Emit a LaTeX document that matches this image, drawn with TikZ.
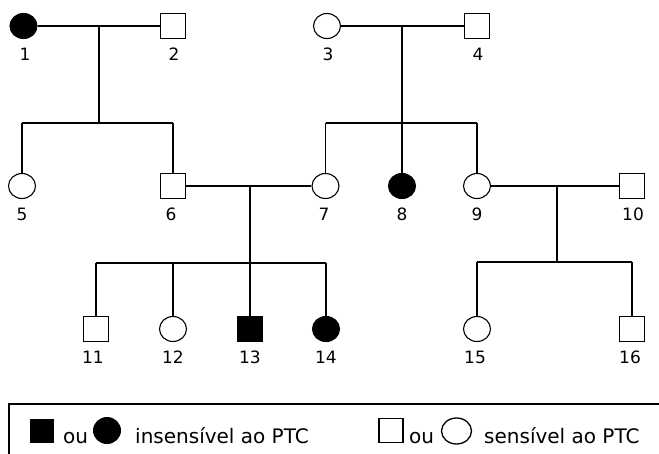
\documentclass[tikz,border=0pt]{standalone}
\usepackage{fontspec}
\setmainfont{DejaVu Sans}
\usetikzlibrary{shapes.geometric}
\begin{document}
\begin{tikzpicture}[x=1pt,y=-1pt,
  fem/.style={ellipse,draw,line width=1.1pt,minimum width=27pt,minimum height=25pt,inner sep=0pt},
  mal/.style={rectangle,draw,line width=1.1pt,minimum size=25pt,inner sep=0pt},
  aff/.style={fill=black},
  lab/.style={font=\fontsize{17}{18}\selectfont,inner sep=0pt},
  legtext/.style={font=\fontsize{20}{22}\selectfont,inner sep=0pt,anchor=base west},
  matline/.style={line width=2pt},
  sibline/.style={line width=1.3pt}]
\useasboundingbox (0,0) rectangle (659,454);
\clip (0,0) rectangle (659,454);
% generation 1
\node[fem,aff] (n1) at (23.5,26) {};
\node[mal] (n2) at (173,26) {};
\node[fem] (n3) at (327,26) {};
\node[mal] (n4) at (477,26) {};
% generation 2
\node[fem] (n5) at (22,186) {};
\node[mal] (n6) at (173,186) {};
\node[fem] (n7) at (325.5,186) {};
\node[fem,aff] (n8) at (402,186) {};
\node[fem] (n9) at (477,186) {};
\node[mal] (n10) at (632,186) {};
% generation 3
\node[mal] (n11) at (96,329) {};
\node[fem] (n12) at (173,329) {};
\node[mal,aff] (n13) at (250,329) {};
\node[fem,aff] (n14) at (326,329) {};
\node[fem] (n15) at (477,329) {};
\node[mal] (n16) at (632,329) {};
% labels
\node[lab] (l1) at (25,54) {1};
\node[lab] (l2) at (174,54) {2};
\node[lab] (l3) at (328,54) {3};
\node[lab] (l4) at (478,54) {4};
\node[lab] (l5) at (22,214) {5};
\node[lab] (l6) at (171,214) {6};
\node[lab] (l7) at (324,214) {7};
\node[lab] (l8) at (402,214) {8};
\node[lab] (l9) at (477,214) {9};
\node[lab] (l10) at (633,214) {10};
\node[lab] (l11) at (93,357) {11};
\node[lab] (l12) at (173,357) {12};
\node[lab] (l13) at (250,357) {13};
\node[lab] (l14) at (326,357) {14};
\node[lab] (l15) at (475,357) {15};
\node[lab] (l16) at (630,357) {16};
% mating points and sibship lines
\coordinate (m12) at (99,26);
\coordinate (s12) at (99,123);
\coordinate (m34) at (402,26);
\coordinate (s34) at (402,123);
\coordinate (m67) at (250,186);
\coordinate (s67) at (250,263);
\coordinate (m910) at (557,186);
\coordinate (s910) at (557,262);
% family 1-2
\draw[matline] (n1) -- (n2);
\draw[matline] (m12) -- (s12);
\draw[sibline] (n5 |- s12) -- (n6 |- s12);
\draw[sibline] (n5 |- s12) -- (n5);
\draw[sibline] (n6 |- s12) -- (n6);
% family 3-4
\draw[matline] (n3) -- (n4);
\draw[matline] (m34) -- (s34);
\draw[sibline] (n7 |- s34) -- (n9 |- s34);
\draw[sibline] (n7 |- s34) -- (n7);
\draw[matline] (s34) -- (n8);
\draw[sibline] (n9 |- s34) -- (n9);
% family 6-7
\draw[matline] (n6) -- (n7);
\draw[matline] (m67) -- (s67);
\draw[sibline] (n11 |- s67) -- (n14 |- s67);
\draw[sibline] (n11 |- s67) -- (n11);
\draw[sibline] (n12 |- s67) -- (n12);
\draw[matline] (s67) -- (n13);
\draw[sibline] (n14 |- s67) -- (n14);
% family 9-10
\draw[matline] (n9) -- (n10);
\draw[matline] (m910) -- (s910);
\draw[sibline] (n15 |- s910) -- (n16 |- s910);
\draw[sibline] (n15 |- s910) -- (n15);
\draw[sibline] (n16 |- s910) -- (n16);
% legend
\draw[line width=1.2pt] (9,470) -- (9,404) -- (680,404);
\node[rectangle,fill=black,minimum size=24pt,inner sep=0pt] (k1) at (42,431) {};
\node[legtext] (k2) at (63,443) {ou};
\node[ellipse,fill=black,minimum width=28pt,minimum height=27pt,inner sep=0pt] (k3) at (107,430.5) {};
\node[legtext] (k4) at (135,443) {insensível ao PTC};
\node[rectangle,draw,line width=1.3pt,minimum size=24pt,inner sep=0pt] (k5) at (391,430.5) {};
\node[legtext] (k6) at (409,443) {ou};
\node[ellipse,draw,line width=1.3pt,minimum width=30pt,minimum height=26pt,inner sep=0pt] (k7) at (456.5,431) {};
\node[legtext] (k8) at (484,443) {sensível ao PTC};
\end{tikzpicture}
\end{document}
